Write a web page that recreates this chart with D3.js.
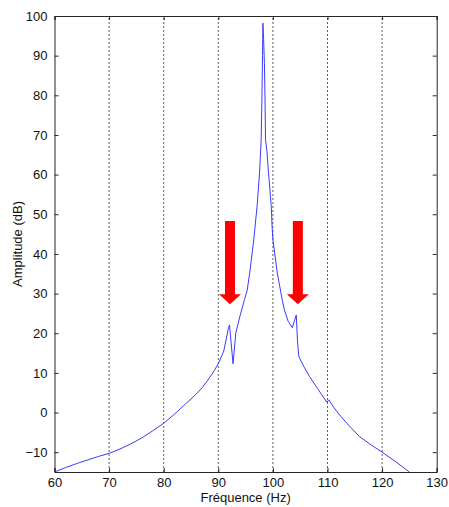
<!DOCTYPE html>
<html><head><meta charset="utf-8">
<script src="https://cdn.jsdelivr.net/npm/d3@7"></script>
<style>body{margin:0;background:#fff}svg{display:block}text{font-family:"Liberation Sans",Arial,sans-serif}</style>
</head><body>
<script>
const freq = [60,62,64,66,68,70,72,74,76,78,80,82,84,85,86,87,88,89,90,91,91.8,92.05,92.7,93.2,94,94.8,95.3,95.75,96.5,97.1,97.55,97.85,98.0,98.1,98.17,98.3,98.45,98.55,98.65,98.9,99.2,99.7,99.85,100,100.8,101.7,102.1,102.8,103.55,104.28,104.5,104.75,105.7,106.7,108.2,109.58,109.87,110.24,111.2,112.2,114,115.85,117.8,119.8,122.4,125];
const ampl = [-15,-13.9,-12.9,-12.0,-11.1,-10.3,-9.2,-7.9,-6.4,-4.6,-2.7,-0.4,2.2,3.4,4.7,6.2,8.0,10.0,12.3,15.5,20.9,22.1,12.3,20,24.5,28.5,30.9,35.2,43.6,52,60.4,68.8,80,90,98.2,94,88,79.7,68.8,66,60.4,52,46.9,43.6,35.2,28.5,25.9,23,21.4,24.6,18,14.1,11.5,9.1,6.0,3.2,2.6,3.2,1.2,-0.6,-3.4,-6.05,-8.0,-9.8,-12.3,-15];
const xTicks = [60,70,80,90,100,110,120,130];
const yTicks = [-10,0,10,20,30,40,50,60,70,80,90,100];
const gridX = [70,80,90,100,110,120];
const arrowX = [92.14,104.57];
const arrowTop = 48.3, arrowTip = 27.3;

(function(){
const W=449,H=507;
const m={l:54.5,t:16,r:W-436.7,b:H-472};
const svg=d3.select("body").append("svg").attr("width",W).attr("height",H);
const x=d3.scaleLinear().domain([60,130]).range([m.l,W-m.r]);
const y=d3.scaleLinear().domain([-15,100]).range([H-m.b,m.t]);
const ax="#262626";

svg.append("g").selectAll("line").data(gridX).join("line")
  .attr("x1",d=>x(d)).attr("x2",d=>x(d)).attr("y1",y(-15)).attr("y2",y(100))
  .attr("stroke","#333").attr("stroke-width",0.8).attr("stroke-dasharray","2,2");

svg.append("clipPath").attr("id","clip").append("rect")
  .attr("x",x(60)).attr("y",y(100)).attr("width",x(130)-x(60)).attr("height",y(-15)-y(100));

const line=d3.line().x((d,i)=>x(freq[i])).y((d,i)=>y(ampl[i]));
svg.append("path").datum(ampl).attr("d",line).attr("fill","none")
  .attr("stroke","#3a3aff").attr("stroke-width",1).attr("clip-path","url(#clip)");

const ag=svg.append("g");
arrowX.forEach(a=>{
  const cx=x(a), t=y(arrowTop), tip=y(arrowTip);
  const sw=5, hw=11, hh=10;
  ag.append("path").attr("fill","#ff0000")
    .attr("d",`M${cx-sw},${t}L${cx+sw},${t}L${cx+sw},${tip-hh}L${cx+hw},${tip-hh}L${cx},${tip}L${cx-hw},${tip-hh}L${cx-sw},${tip-hh}Z`);
});

const fs="13px";
const gB=svg.append("g").attr("transform",`translate(0,${y(-15)})`)
  .call(d3.axisBottom(x).tickValues(xTicks).tickSize(-4).tickPadding(6));
const gT=svg.append("g").attr("transform",`translate(0,${y(100)})`)
  .call(d3.axisTop(x).tickValues(xTicks).tickSize(-4).tickFormat(""));
const gL=svg.append("g").attr("transform",`translate(${x(60)},0)`)
  .call(d3.axisLeft(y).tickValues(yTicks).tickSize(-4).tickPadding(7));
const gR=svg.append("g").attr("transform",`translate(${x(130)},0)`)
  .call(d3.axisRight(y).tickValues(yTicks).tickSize(-4).tickFormat(""));
[gB,gT,gL,gR].forEach(g=>{
  g.select(".domain").attr("stroke",ax).attr("stroke-width",1);
  g.selectAll(".tick line").attr("stroke",ax);
  g.selectAll("text").attr("fill","#111").style("font-size",fs).style("font-family","'Liberation Sans',Arial,sans-serif");
});

svg.append("text").attr("x",(x(60)+x(130))/2).attr("y",502).attr("text-anchor","middle")
  .style("font-size","13px").attr("fill","#111").text("Fréquence (Hz)");
svg.append("text").attr("transform",`translate(22,${(y(-15)+y(100))/2}) rotate(-90)`).attr("text-anchor","middle")
  .style("font-size","13px").attr("fill","#111").text("Amplitude (dB)");
})();
</script>
</body></html>
